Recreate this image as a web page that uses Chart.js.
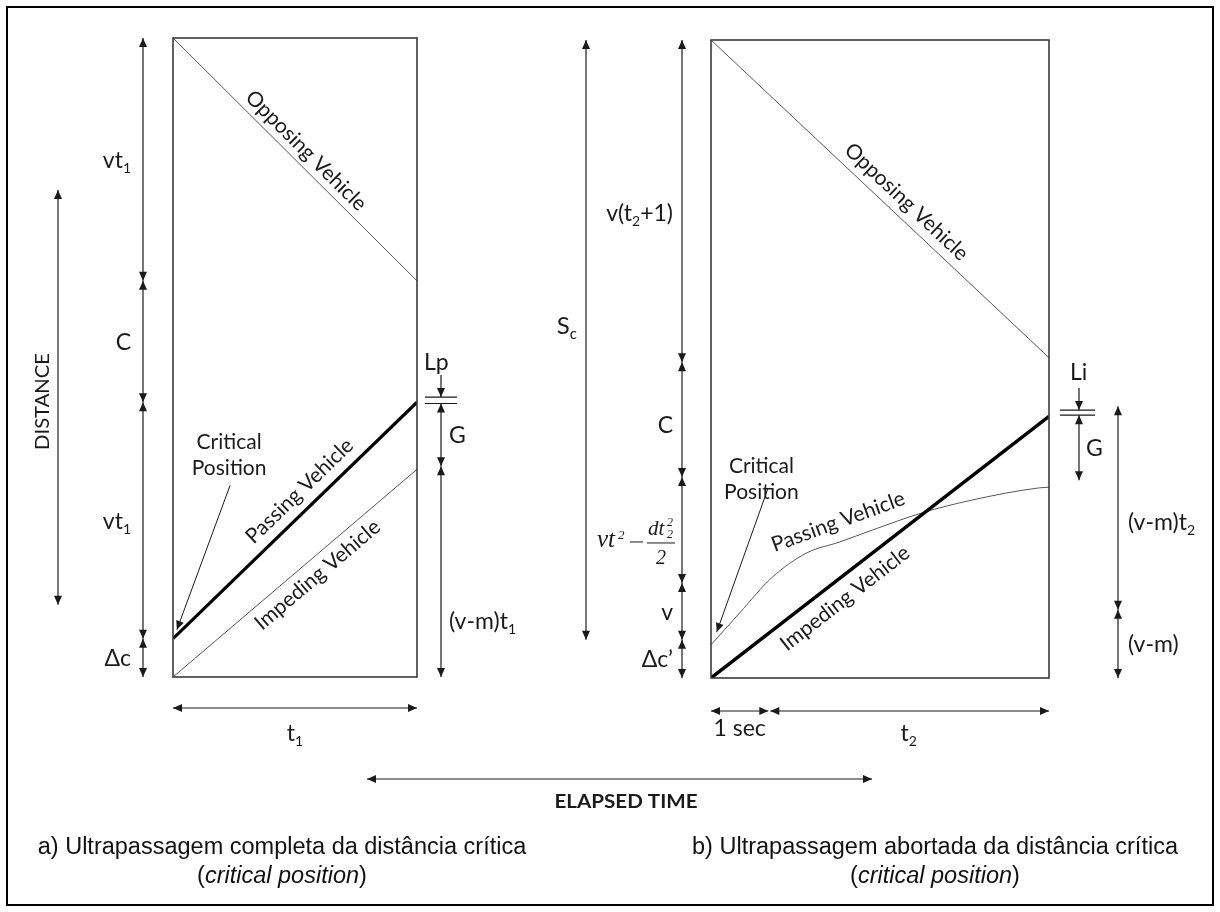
<!DOCTYPE html>
<html lang="pt">
<head>
<meta charset="UTF-8">
<title>Distância crítica de ultrapassagem</title>
<script src="https://cdn.jsdelivr.net/npm/chart.js"></script>
<style>
  body { margin: 0; background: #fff; }
  .page { position: relative; width: 1220px; height: 912px; overflow: hidden; }
  .frame { position: absolute; left: 6px; top: 6px; width: 1208px; height: 900px; border: 2px solid #000; box-sizing: border-box; }
  canvas { position: absolute; left: 0; top: 0; }
  .caption { position: absolute; top: 832px; width: 600px; text-align: center;
             font-family: 'Liberation Sans', Arial, sans-serif; font-size: 23.5px; line-height: 29px; color: #111; }
</style>
</head>
<body>
<div class="page">
  <div class="frame"></div>
  <canvas id="panelA" width="1220" height="912"></canvas>
  <canvas id="panelB" width="1220" height="912"></canvas>
  <div class="caption" style="left:-18px">a) Ultrapassagem completa da distância crítica<br>(<i>critical position</i>)</div>
  <div class="caption" style="left:635px">b) Ultrapassagem abortada da distância crítica<br>(<i>critical position</i>)</div>
</div>

<script>
// panel a: time in units of t1, distance 0..100
const timeA = [0, 1];
const opposingA = [100, 62];
const passingA = [6, 43];
const impedingA = [0, 32.5];

// panel b: time in seconds (1 s reaction + t2), distance 0..100
const timeB = [0, 5.9];
const opposingB = [100, 50.2];
const impedingB = [0, 41];
const passingTimeB = [0, 0.5, 1.07, 1.67, 2.24, 2.82, 3.69, 4.56, 5.73, 5.9];
const passingB = [5.2, 10.2, 15.8, 19.6, 21.3, 23.2, 25.9, 27.9, 29.8, 29.9];

// dimension chains, bottom to top
const chainA = [0, 6, 43, 62, 100];
const chainALabels = ['Δc', 'vt_1', 'C', 'vt_1'];
const gapA = [0, 33, 42.8, 43.8];
const gapALabels = ['(v-m)t_1', 'G', 'Lp'];

const chainB = [0, 6, 14.9, 31.5, 49.5, 100];
const chainBLabels = ['Δc’', 'v', null, 'C', 'v(t_2+1)'];
const gapB = [31, 41.2, 42];
const gapBLabels = ['G', 'Li'];
const relB = [0, 10.7, 42.6];
const relBLabels = ['(v-m)', '(v-m)t_2'];
const sightB = [6, 100];
const stepsB = [0, 1, 5.9];
const stepsBLabels = ['1 sec', 't_2'];

const ink = '#1a1a1a';
const sans = "Lato, 'Open Sans', sans-serif";
const font = (size, weight) => `${weight || ''} ${size}px ${sans}`.trim();

function head(ctx, x, y, ang) {
  ctx.save();
  ctx.translate(x, y);
  ctx.rotate(ang);
  ctx.beginPath();
  ctx.moveTo(0, 0);
  ctx.lineTo(-9, -4);
  ctx.lineTo(-9, 4);
  ctx.closePath();
  ctx.fill();
  ctx.restore();
}

function arrow(ctx, x1, y1, x2, y2, start, end) {
  ctx.beginPath();
  ctx.moveTo(x1, y1);
  ctx.lineTo(x2, y2);
  ctx.stroke();
  const a = Math.atan2(y2 - y1, x2 - x1);
  if (end) head(ctx, x2, y2, a);
  if (start) head(ctx, x1, y1, a + Math.PI);
}

// text with '_x' subscripts, y is the vertical centre of the capitals
function rich(ctx, str, x, y, align, size) {
  const runs = [];
  for (let i = 0; i < str.length; i++) {
    if (str[i] === '_') runs.push({ t: str[++i], sub: true });
    else if (runs.length && !runs[runs.length - 1].sub) runs[runs.length - 1].t += str[i];
    else runs.push({ t: str[i], sub: false });
  }
  const sub = Math.round(size * 0.62);
  let w = 0;
  runs.forEach(r => {
    ctx.font = font(r.sub ? sub : size);
    r.w = ctx.measureText(r.t).width;
    w += r.w;
  });
  let cx = align === 'right' ? x - w : align === 'center' ? x - w / 2 : x;
  const base = y + size * 0.36;
  ctx.textAlign = 'left';
  ctx.textBaseline = 'alphabetic';
  runs.forEach(r => {
    ctx.font = font(r.sub ? sub : size);
    ctx.fillText(r.t, cx, r.sub ? base + size * 0.22 : base);
    cx += r.w;
  });
}

// squeeze a label into a given width
function fitText(ctx, text, x, y, width, f, rot) {
  ctx.save();
  ctx.translate(x, y);
  if (rot) ctx.rotate(rot);
  ctx.font = f;
  const w = ctx.measureText(text).width;
  ctx.scale(width / w, 1);
  ctx.textAlign = 'center';
  ctx.textBaseline = 'middle';
  ctx.fillText(text, 0, 0);
  ctx.restore();
}

function chain(ctx, x, ys, labels, lx, align, dy) {
  for (let i = 0; i < ys.length - 1; i++) {
    arrow(ctx, x, ys[i], x, ys[i + 1], true, true);
    if (labels[i]) rich(ctx, labels[i], lx, (ys[i] + ys[i + 1]) / 2 + ((dy && dy[i]) || 0), align, 23);
  }
}

// two short ticks marking a vehicle length, with a pointer from above
function lengthMark(ctx, x, yTop, yBot, x1, x2, label, lx, ly) {
  ctx.beginPath();
  ctx.moveTo(x1, yTop); ctx.lineTo(x2, yTop);
  ctx.moveTo(x1, yBot); ctx.lineTo(x2, yBot);
  ctx.stroke();
  arrow(ctx, x, yTop - 22, x, yTop, false, true);
  rich(ctx, label, lx, ly, 'left', 23);
}

function alongLine(ctx, meta, f, off, text) {
  const p0 = meta.data[0], p1 = meta.data[meta.data.length - 1];
  const dx = p1.x - p0.x, dy = p1.y - p0.y, a = Math.atan2(dy, dx);
  ctx.save();
  ctx.translate(p0.x + dx * f + Math.sin(a) * off, p0.y + dy * f - Math.cos(a) * off);
  ctx.rotate(a);
  ctx.font = font(21);
  ctx.textAlign = 'center';
  ctx.textBaseline = 'middle';
  ctx.fillText(text, 0, 0);
  ctx.restore();
}

function critical(ctx, tx, ty, fx, fy, px, py) {
  ctx.font = font(21);
  ctx.textAlign = 'center';
  ctx.textBaseline = 'middle';
  ctx.fillText('Critical', tx, ty - 13);
  ctx.fillText('Position', tx, ty + 13);
  ctx.lineWidth = 1;
  arrow(ctx, fx, fy, px, py, false, true);
}

function frame(ctx, a) {
  ctx.strokeStyle = '#3a3a3a';
  ctx.lineWidth = 1.6;
  ctx.strokeRect(a.left, a.top, a.width, a.height);
}

function drawA(chart) {
  const { ctx, chartArea: a, scales: { x, y } } = chart;
  ctx.save();
  frame(ctx, a);
  ctx.fillStyle = ink;
  ctx.strokeStyle = ink;
  ctx.lineWidth = 1.2;

  chain(ctx, 143, chainA.map(v => y.getPixelForValue(v)), chainALabels, 131, 'right');

  const g = gapA.map(v => y.getPixelForValue(v));
  chain(ctx, 441, g.slice(0, 3), gapALabels.slice(0, 2), 449, 'left', [49, 0]);
  lengthMark(ctx, 441, g[3], g[2], 425, 457, gapALabels[2], 424, g[3] - 35);

  const x0 = x.getPixelForValue(timeA[0]), x1 = x.getPixelForValue(timeA[1]);
  arrow(ctx, x0, 708, x1, 708, true, true);
  rich(ctx, 't_1', (x0 + x1) / 2, 733, 'center', 23);

  // distance axis
  const d1 = y.getPixelForValue(76.2), d2 = y.getPixelForValue(11.3);
  arrow(ctx, 58, d1, 58, d2, true, true);
  fitText(ctx, 'DISTANCE', 43, (d1 + d2) / 2 + 4, 97, font(19), -Math.PI / 2);

  // elapsed time axis
  arrow(ctx, 367, 779, 872, 779, true, true);
  fitText(ctx, 'ELAPSED TIME', 626, 802, 143, font(19, 'bold'));

  ctx.fillStyle = ink;
  alongLine(ctx, chart.getDatasetMeta(0), 0.505, 14, 'Opposing Vehicle');
  alongLine(ctx, chart.getDatasetMeta(1), 0.57, 18, 'Passing Vehicle');
  alongLine(ctx, chart.getDatasetMeta(2), 0.55, -16, 'Impeding Vehicle');

  critical(ctx, x.getPixelForValue(0.23), y.getPixelForValue(34.7),
           x.getPixelForValue(0.234), y.getPixelForValue(30),
           x.getPixelForValue(0.016), y.getPixelForValue(7.4));
  ctx.restore();
}

// vt^2 - dt_2^2 / 2, right edge at xr, fraction bar at yc
function formula(ctx, xr, yc) {
  const it = s => `italic ${s}px 'Liberation Serif', 'DejaVu Serif', serif`;
  const x0 = xr - 78;
  ctx.textAlign = 'left';
  ctx.textBaseline = 'alphabetic';
  ctx.font = it(25);
  const vtW = ctx.measureText('vt').width;
  ctx.fillText('vt', x0, yc + 4);
  ctx.font = it(13);
  ctx.fillText('2', x0 + vtW + 3, yc - 4);
  ctx.lineWidth = 1;
  ctx.beginPath();
  ctx.moveTo(xr - 45, yc - 1);
  ctx.lineTo(xr - 32, yc - 1);
  ctx.stroke();
  ctx.font = it(21);
  ctx.fillText('dt', xr - 27, yc - 8);
  ctx.font = it(12);
  ctx.fillText('2', xr - 8, yc - 17);
  ctx.fillText('2', xr - 8, yc - 5);
  ctx.beginPath();
  ctx.moveTo(xr - 28, yc);
  ctx.lineTo(xr, yc);
  ctx.stroke();
  ctx.font = it(20);
  ctx.textAlign = 'center';
  ctx.fillText('2', xr - 14, yc + 21);
}

function drawB(chart) {
  const { ctx, chartArea: a, scales: { x, y } } = chart;
  ctx.save();
  frame(ctx, a);
  ctx.fillStyle = ink;
  ctx.strokeStyle = ink;
  ctx.lineWidth = 1.2;

  const c = chainB.map(v => y.getPixelForValue(v));
  chain(ctx, 682, c, chainBLabels, 673, 'right', [0, 0, 0, 5, 12]);
  formula(ctx, 675, (c[2] + c[3]) / 2 + 13);
  ctx.lineWidth = 1.2;

  const s = sightB.map(v => y.getPixelForValue(v));
  arrow(ctx, 586, s[0], 586, s[1], true, true);
  rich(ctx, 'S_c', 577, 325, 'right', 24);

  const g = gapB.map(v => y.getPixelForValue(v));
  chain(ctx, 1079, g.slice(0, 2), gapBLabels.slice(0, 1), 1086, 'left');
  lengthMark(ctx, 1079, g[2], g[1], 1060, 1095, gapBLabels[1], 1070, g[2] - 38);

  const r = relB.map(v => y.getPixelForValue(v));
  chain(ctx, 1118, r, relBLabels, 1128, 'left', [0, 14]);

  const t = stepsB.map(v => x.getPixelForValue(v));
  arrow(ctx, t[0], 711, t[1], 711, true, true);
  arrow(ctx, t[1] + 2, 711, t[2], 711, true, true);
  rich(ctx, stepsBLabels[0], (t[0] + t[1]) / 2, 728, 'center', 23);
  rich(ctx, stepsBLabels[1], (t[1] + t[2]) / 2, 733, 'center', 23);

  alongLine(ctx, chart.getDatasetMeta(0), 0.546, 16, 'Opposing Vehicle');
  alongLine(ctx, chart.getDatasetMeta(1), 0.362, -19, 'Impeding Vehicle');
  ctx.save();
  ctx.translate(x.getPixelForValue(2.22), y.getPixelForValue(24.5));
  ctx.rotate(-20 * Math.PI / 180);
  ctx.font = font(21);
  ctx.textAlign = 'center';
  ctx.textBaseline = 'middle';
  ctx.fillText('Passing Vehicle', 0, 0);
  ctx.restore();

  critical(ctx, x.getPixelForValue(0.88), y.getPixelForValue(31.2),
           x.getPixelForValue(0.99), y.getPixelForValue(29.6),
           x.getPixelForValue(0.1), y.getPixelForValue(7.2));
  ctx.restore();
}

const pts = (xs, ys) => xs.map((v, i) => ({ x: v, y: ys[i] }));

function panel(id, xMax, padding, datasets, draw) {
  return new Chart(document.getElementById(id), {
    type: 'line',
    data: { datasets },
    options: {
      responsive: false,
      animation: false,
      events: [],
      layout: { padding },
      elements: { point: { radius: 0 } },
      plugins: { legend: { display: false }, tooltip: { enabled: false } },
      scales: {
        x: { type: 'linear', min: 0, max: xMax, display: false },
        y: { type: 'linear', min: 0, max: 100, display: false }
      }
    },
    plugins: [{ id: 'notes', afterDatasetsDraw: draw }]
  });
}

panel('panelA', timeA[1], { left: 173, right: 803, top: 38, bottom: 235 }, [
  { data: pts(timeA, opposingA), borderColor: '#555', borderWidth: 1 },
  { data: pts(timeA, passingA), borderColor: '#000', borderWidth: 3.2 },
  { data: pts(timeA, impedingA), borderColor: '#555', borderWidth: 1 }
], drawA);

panel('panelB', timeB[1], { left: 711, right: 171, top: 40, bottom: 234 }, [
  { data: pts(timeB, opposingB), borderColor: '#555', borderWidth: 1 },
  { data: pts(timeB, impedingB), borderColor: '#000', borderWidth: 3.4 },
  { data: pts(passingTimeB, passingB), borderColor: '#555', borderWidth: 1,
    cubicInterpolationMode: 'monotone' }
], drawB);
</script>
</body>
</html>
